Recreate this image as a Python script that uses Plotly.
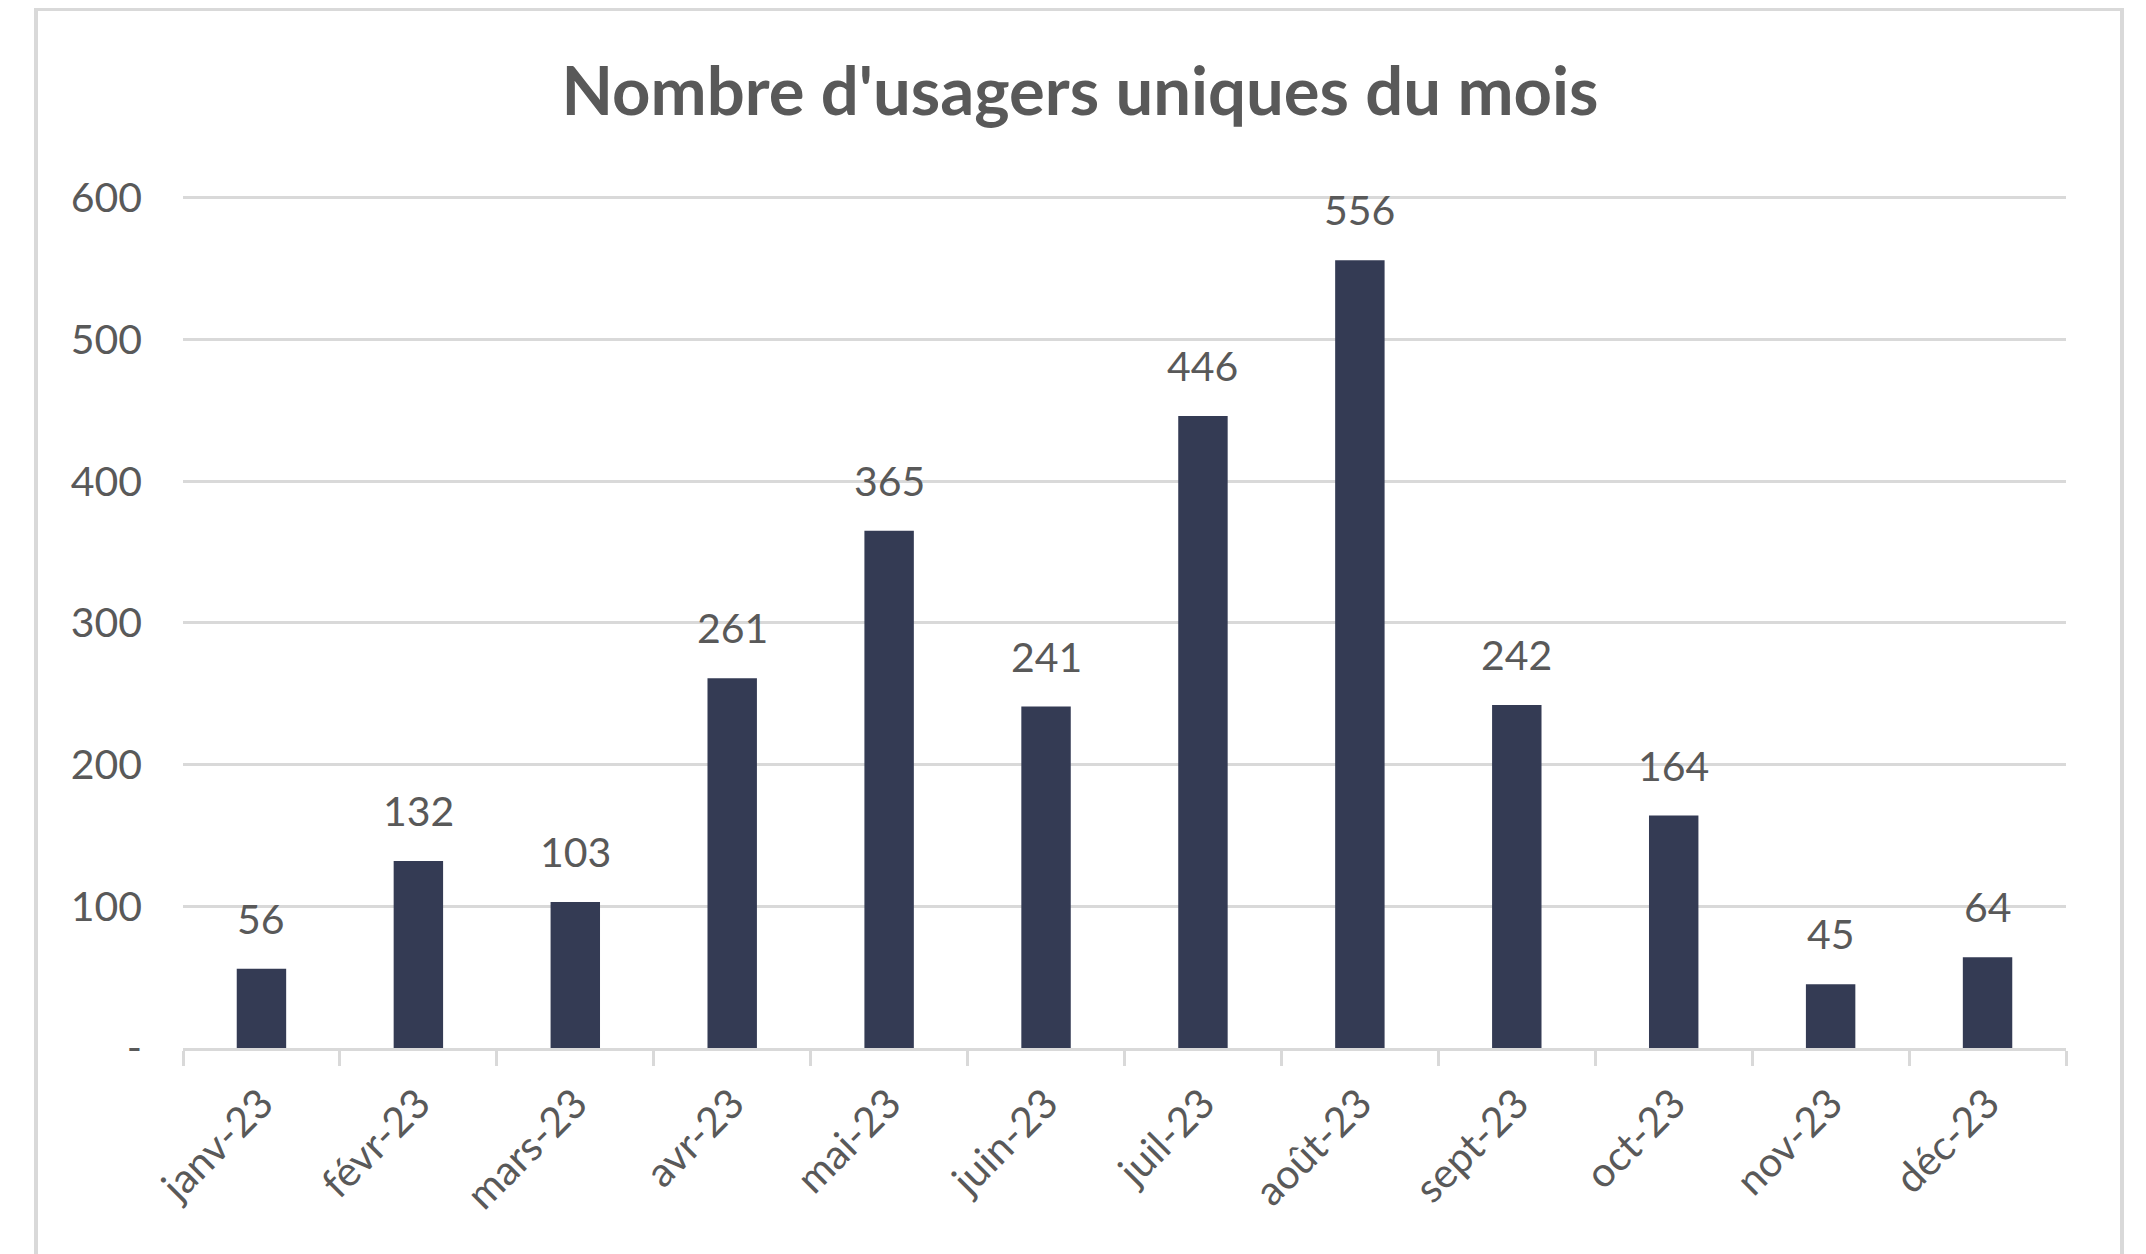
import plotly.graph_objects as go

months = ["janv-23", "févr-23", "mars-23", "avr-23", "mai-23", "juin-23",
          "juil-23", "août-23", "sept-23", "oct-23", "nov-23", "déc-23"]
users = [56, 132, 103, 261, 365, 241, 446, 556, 242, 164, 45, 64]
y_tick_vals = [0, 100, 200, 300, 400, 500, 600]
y_tick_text = ["-", "100", "200", "300", "400", "500", "600"]
title_text = "Nombre d'usagers uniques du mois"

OFF = 8  # default page body margin
Y_TOP = 602  # a little headroom so the 600 gridline is drawn
PX_PER_UNIT = 850.3 / 600
W, H = 2146 - OFF, 1254 - OFF
L, R = 183 - OFF, 80
T = round(198 - OFF - (Y_TOP - 600) * PX_PER_UNIT)
B = 206
FONT = "Lato"
GRAY = "#595959"
LINE = "#d9d9d9"

fig = go.Figure()
fig.add_trace(go.Bar(
    x=months, y=users,
    marker=dict(color="#343b54", line=dict(width=0)),
    width=0.315,
    hoverinfo="x+y",
))

for m, v in zip(months, users):
    fig.add_annotation(x=m, y=v, text=str(v), showarrow=False,
                       yanchor="bottom", yshift=24,
                       font=dict(family=FONT, size=41, color=GRAY))

plot_w = W - L - R
plot_h = H - T - B
def px_x(p):
    return (p - OFF - L) / plot_w
def px_y(p):
    return (H - B - (p - OFF)) / plot_h

# outer chart frame
fig.add_shape(type="rect", xref="paper", yref="paper",
              x0=px_x(36), x1=px_x(2122), y0=px_y(1320), y1=px_y(9),
              line=dict(color=LINE, width=4), fillcolor="rgba(0,0,0,0)",
              layer="below")

fig.update_layout(
    width=W, height=H,
    margin=dict(l=L, r=R, t=T, b=B, autoexpand=False),
    paper_bgcolor="white", plot_bgcolor="white",
    showlegend=False,
    title=dict(text=title_text, x=(1080 - OFF) / W, xanchor="center",
               y=1 - 84 / H, yanchor="middle", xref="container", yref="container",
               font=dict(family=FONT, size=67, color=GRAY, weight="bold")),
    font=dict(family=FONT, color=GRAY),
)

fig.update_xaxes(
    type="category",
    tickangle=-45,
    tickson="boundaries",
    ticks="outside", ticklen=15, tickwidth=3, tickcolor=LINE,
    showline=True, linecolor=LINE, linewidth=3,
    showgrid=False,
    tickfont=dict(family=FONT, size=41, color=GRAY),
    ticklabelstandoff=12,
)
fig.update_yaxes(
    range=[0, Y_TOP],
    tickvals=y_tick_vals, ticktext=y_tick_text,
    showgrid=True, gridcolor=LINE, gridwidth=3,
    zeroline=False, showline=False, ticks="",
    tickfont=dict(family=FONT, size=41, color=GRAY),
    ticklabelstandoff=40,
)

fig.write_html("out.html")
